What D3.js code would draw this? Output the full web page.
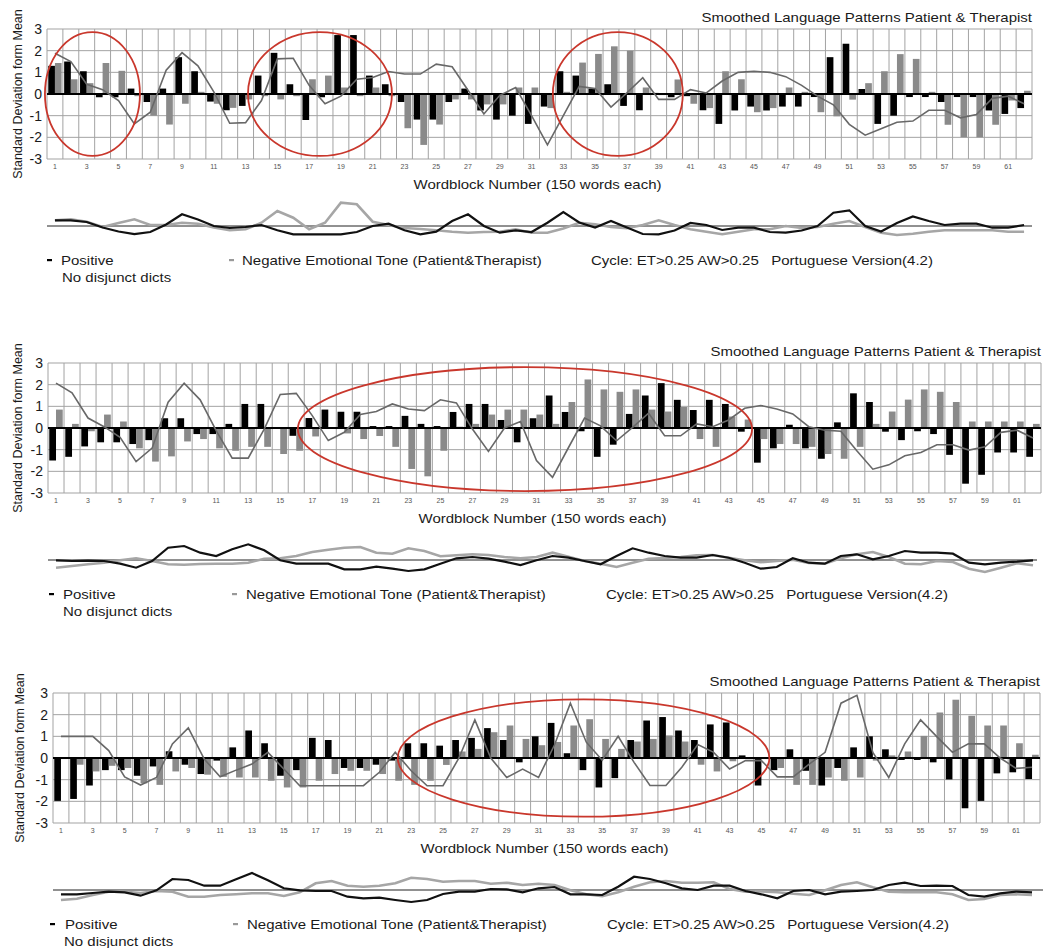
<!DOCTYPE html>
<html>
<head>
<meta charset="utf-8">
<script src="https://cdn.jsdelivr.net/npm/d3@7"></script>
<style>
  body { margin: 0; background: #fff; }
  svg text { font-family: "Liberation Sans", Arial, sans-serif; white-space: pre; }
</style>
</head>
<body>
<svg id="chart" width="1045" height="948"></svg>
<script>
// Wordblocks (150 words each) and axis ticks
const wordblocks = d3.range(1, 63);
const tickLabels = [1, 3, 5, 7, 9, 11, 13, 15, 17, 19, 21, 23, 25, 27, 29, 31, 33, 35, 37, 39, 41, 43, 45, 47, 49, 51, 53, 55, 57, 59, 61];
const yTicks = [-3, -2, -1, 0, 1, 2, 3];

// Panel 1
const p1Positive = [1.3, 1.5, 1.05, -0.15, -0.15, 0.25, -0.37, 0.25, 1.7, 1.05, -0.35, -0.75, -0.55, 0.85, 1.9, 0.45, -1.2, -0.15, 2.72, 2.72,
  0.85, 0.45, -0.37, -1.18, -1.18, -0.37, 0.25, -0.76, -1.18, -1.0, -1.38, -0.58, 1.05, 0.85, 0.25, 0.45, -0.55, -0.75, 0.05, -0.15,
  -0.1, -0.75, -1.38, -0.76, -0.58, -0.76, -0.58, -0.58, -0.14, 1.7, 2.32, 0.23, -1.38, -1.0, -0.14, -0.14, -0.37, -0.14, -0.14, -0.76,
  -0.92, -0.65];
const p1Negative = [1.43, 0.68, 0.5, 1.43, 1.07, -0.1, -1.0, -1.41, -0.45, 0.1, -0.45, -0.64, -0.25, -0.1, -0.25, -0.1, 0.68, 0.85, 0.3, -0.1,
  0.3, -0.1, -1.58, -2.35, -1.41, -0.25, -0.25, -0.48, -0.48, 0.3, 0.3, -0.65, 0.1, 1.45, 1.85, 2.2, 2.0, 0.3, -0.05, 0.67,
  -0.45, -0.65, 1.05, 0.68, -0.84, -0.65, 0.3, 0.1, -0.84, -1.03, -0.26, 0.5, 1.05, 1.84, 1.62, 0.1, -1.42, -2.0, -2.0, -1.42,
  -0.3, 0.15];
const p1Line = [1.88, 1.5, 0.45, 0.2, -0.3, -1.38, -0.84, 1.1, 1.91, 1.3, 0.1, -1.35, -1.32, -0.3, 1.62, 1.65, 0.4, -0.45, -0.1, 0.68,
  0.76, 1.04, 0.92, 0.92, 1.38, 1.26, 0.17, -0.92, -0.06, 0.3, -1.0, -2.35, -1.0, 0.35, 0.25, -0.6, 0.05, 0.75, -0.25, -0.25,
  0.2, 0.05, 0.6, 1.0, 1.05, 1.0, 0.8, 0.4, -0.1, -0.5, -1.4, -1.9, -1.6, -1.3, -1.25, -0.75, -0.75, -1.1, -0.95, -0.2,
  -0.1, -0.45];
const p1SmoothPos = [0.57, 0.57, 0.4, -0.15, -0.55, -0.82, -0.6, 0.15, 1.17, 0.65, 0, -0.2, -0.1, 0.1, -0.43, -0.83, -0.83, -0.83, -0.83, -0.6,
  0, 0.23, -0.43, -0.83, -0.57, 0.5, 1.17, 0, -0.67, -0.43, -0.6, 0.33, 1.4, 0.35, -0.15, 0.5, -0.15, -0.8, -0.83, -0.45,
  0.3, 0.1, -0.4, -0.17, -0.17, -0.6, -0.67, -0.45, 0, 1.33, 1.57, 0, -0.55, 0.3, 0.95, 0.5, 0.1, 0.23, 0.23, -0.17,
  -0.17, 0.1];
const p1SmoothNeg = [0.57, 0.67, 0.43, -0.1, 0.3, 0.67, 0.1, 0.1, 0.33, 0.23, -0.15, -0.43, -0.33, 0.33, 1.5, 0.83, -0.33, 0.33, 2.33, 2.17,
  0.43, 0.1, -0.2, -0.3, -0.43, -0.57, -0.67, -0.6, -0.57, -0.33, -0.67, -0.67, -0.25, 0.33, 0.17, -0.1, -0.23, 0.1, 0.57, 0.1,
  -0.33, -0.57, -0.83, -0.57, -0.33, -0.33, 0, -0.2, -0.1, 0.23, 0.5, -0.1, -0.67, -0.9, -0.77, -0.57, -0.43, -0.43, -0.43, -0.43,
  -0.57, -0.57];
const p1Rings = [{ cx: 3.36, rx: 2.99, cy: 0, ry: 2.86 }, { cx: 17.68, rx: 4.53, cy: 0, ry: 2.86 }, { cx: 36.43, rx: 4.09, cy: 0, ry: 2.86 }];

// Panel 2
const p2Positive = [-1.5, -1.33, -0.85, -0.66, -0.66, -0.74, -0.56, 0.45, 0.45, -0.28, -0.28, 0.19, 1.11, 1.11, 0, -0.36, 0.46, 0.85, 0.75, 0.75,
  0.09, 0.09, 0.56, 0.19, 0.09, 0.74, 1.11, 1.11, 0.37, -0.66, 0.45, 1.5, 0.74, -0.15, -1.33, -0.77, 0.65, 1.5, 2.07, 1.3,
  0.83, 1.3, 1.11, -0.17, -1.6, -0.94, 0.15, -0.94, -1.42, 0.26, 1.6, 1.2, -0.17, -0.56, -0.15, -0.28, -1.24, -2.57, -2.16, -1.13,
  -1.13, -1.33];
const p2Negative = [0.85, 0.19, -0.15, 0.62, 0.3, -0.94, -1.55, -1.31, -0.62, -0.51, -0.94, -1.05, -0.87, -0.87, -1.2, -1.05, -0.39, 0, -0.25, -0.51,
  -0.37, -0.87, -1.89, -2.23, -1.05, 0.06, 0.19, 0.62, 0.85, 0.85, 0.62, 0.19, 1.2, 2.24, 1.78, 1.67, 1.78, 0.85, 0.76, 0.97,
  -0.51, -0.87, 0.53, 0.39, -0.51, -0.74, -0.74, -0.87, -1.2, -1.42, -0.87, 0.19, 0.76, 1.31, 1.78, 1.67, 1.2, 0.3, 0.3, 0.3,
  0.3, 0.19];
const p2Line = [2.07, 1.62, 0.46, 0.06, -0.43, -1.55, -0.93, 1.19, 2.07, 1.3, -0.12, -1.39, -1.39, -0.05, 1.55, 1.6, 0.57, -0.58, -0.2, 0.62,
  0.76, 1.11, 0.88, 0.8, 1.3, 1.16, -0.05, -1.08, 0, 0.3, -1.5, -2.28, -0.9, 0.46, 0.1, -0.59, 0.03, 0.68, -0.36, -0.36,
  0.19, 0.06, 0.37, 0.91, 1.04, 0.88, 0.65, 0.06, -0.1, -0.15, -1.05, -1.9, -1.7, -1.28, -1.13, -0.77, -0.77, -1.02, -0.87, -0.2,
  -0.1, -0.46];
const p2SmoothPos = [-0.03, -0.1, -0.07, -0.1, -0.37, -0.77, -0.1, 1.23, 1.4, 0.73, 0.4, 1.07, 1.57, 0.97, -0.03, -0.37, -0.37, -0.37, -0.93, -0.93,
  -0.67, -0.87, -1.1, -0.93, -0.37, 0.17, 0.3, 0.13, -0.17, -0.5, -0.03, 0.4, 0.23, -0.1, -0.43, 0.4, 1.17, 0.73, 0.4, 0.23,
  0.23, 0.5, 0.23, -0.27, -0.87, -0.7, 0.17, -0.27, -0.37, 0.4, 0.57, 0.07, 0.4, 0.9, 0.73, 0.73, 0.63, -0.27, -0.43, -0.27,
  -0.17, -0.03];
const p2SmoothNeg = [-0.77, -0.6, -0.43, -0.27, -0.03, 0.17, -0.1, -0.43, -0.47, -0.4, -0.37, -0.37, -0.27, 0.13, 0.17, 0.4, 0.8, 1.03, 1.23, 1.3,
  0.73, 0.63, 1.17, 0.9, 0.37, 0.47, 0.57, 0.5, 0.3, 0.17, 0.3, 0.73, 0.33, -0.1, -0.37, -0.7, -0.27, 0.13, 0.2, 0.3,
  0.47, 0.5, 0.23, -0.03, -0.23, -0.1, 0.03, -0.3, -0.37, 0.17, 0.57, 0.8, 0.3, -0.37, -0.43, -0.1, -0.2, -0.87, -1.2, -0.77,
  -0.33, -0.53];
const p2Rings = [{ cx: 30.28, rx: 14.18, cy: -0.05, ry: 2.86 }];

// Panel 3
const p3Positive = [-1.98, -1.89, -1.27, -0.56, -0.56, -0.82, -0.39, 0.31, -0.31, -0.74, -0.12, 0.49, 1.27, 0.68, -0.82, -0.56, 0.93, 0.83, -0.46, -0.46,
  -0.31, -0.12, 0.68, 0.68, 0.57, 0.83, 0.93, 1.38, 0.83, -0.2, 1.0, 1.62, 0.22, -0.56, -1.36, -0.93, 0.83, 1.73, 1.89, 1.27,
  0.83, 1.55, 1.64, 0.12, -1.27, -0.56, 0.4, -0.59, -1.27, -0.46, 0.49, 1.0, 0.4, -0.09, -0.09, -0.2, -0.99, -2.32, -1.98, -0.71,
  -0.66, -0.97];
const p3Negative = [-0.05, -0.31, -0.62, -0.36, -0.46, -1.17, -1.24, -0.62, -0.46, -0.77, -0.87, -0.9, -0.9, -1.05, -1.36, -1.36, -1.05, -0.74, -0.59, -0.59,
  -0.74, -1.05, -1.24, -1.05, -0.32, 0.3, 0.42, 1.19, 1.5, 0.88, 0.59, 0.74, 1.5, 1.79, 0.88, 0.42, 0.76, 0.88, 1.04, 0.76,
  -0.31, -0.62, -0.15, -0.05, -0.05, -0.46, -1.24, -1.24, -0.9, -1.05, -0.9, -0.12, 0.12, 0.3, 1.02, 2.1, 2.69, 1.95, 1.5, 1.5,
  0.68, 0.15];
const p3Line = [1.0, 1.0, 1.0, 0.34, -0.87, -1.25, -0.9, 0.65, 1.39, -0.05, -0.87, -0.56, -0.28, 0.26, -0.51, -1.28, -1.28, -1.28, -1.28, -1.28,
  -0.66, 0.26, -0.59, -1.28, -1.28, 0.0, 1.76, 0.0, -0.9, -0.51, -0.9, 0.6, 2.53, 0.73, -0.1, 1.0, -0.2, -1.27, -1.27, -0.43,
  0.62, 0.26, -0.51, -0.12, -0.12, -0.87, -0.87, -0.28, 0.26, 2.53, 2.89, 0.26, -0.9, 0.65, 1.76, 1.0, 0.26, 0.65, 0.65, 0.0,
  -0.48, -0.43];
const p3SmoothPos = [-0.43, -0.43, -0.3, -0.17, -0.23, -0.57, -0.03, 1.1, 1.0, 0.43, 0.43, 1.07, 1.7, 0.97, 0.17, -0.03, -0.1, -0.1, -0.67, -0.83,
  -0.77, -1.0, -1.2, -1.0, -0.4, -0.17, -0.17, 0.1, 0.07, -0.23, 0.17, 0.3, -0.43, -0.43, -0.5, 0.33, 1.33, 1.1, 0.67, 0.17,
  0, 0.43, 0.43, -0.1, -0.43, -0.83, -0.1, 0, -0.43, -0.17, -0.1, 0, 0.5, 0.73, 0.4, 0.43, 0.4, -0.5, -0.67, -0.33,
  -0.17, -0.23];
const p3SmoothNeg = [-1.0, -0.87, -0.5, -0.17, -0.17, -0.3, -0.1, -0.17, -0.67, -0.67, -0.5, -0.43, -0.33, -0.33, -0.6, -0.23, 0.67, 0.9, 0.43, 0.33,
  0.43, 0.67, 1.23, 1.1, 0.83, 0.9, 0.9, 0.63, 0.73, 0.5, 0.63, 0.5, -0.03, -0.43, -0.63, -0.23, 0.33, 0.77, 0.9, 0.73,
  0.73, 0.77, 0.1, -0.17, -0.13, -0.23, -0.37, -0.5, -0.03, 0.5, 0.77, 0.27, -0.17, -0.23, -0.23, -0.23, -0.43, -1.0, -0.9, -0.5,
  -0.43, -0.5];
const p3Rings = [{ cx: 33.83, rx: 11.67, cy: 0, ry: 2.71 }];

const titleText = "Smoothed Language Patterns Patient & Therapist";
const xTitle = "Wordblock Number (150 words each)";
const yTitle = "Standard Deviation form Mean";
const posLabel = "Positive";
const negLabel = "Negative Emotional Tone (Patient&Therapist)";
const cycleLabel = "Cycle: ET>0.25 AW>0.25   Portuguese Version(4.2)";
const noteLabel = "No disjunct dicts";

const panels = [
  { pos: p1Positive, neg: p1Negative, line: p1Line, sPos: p1SmoothPos, sNeg: p1SmoothNeg, rings: p1Rings,
    left: 47, right: 1032, top: 29, yTitleX: 17, base: [47, 1032],
    lg: { dash: 47, text: 61, negDash: 229, negText: 242, cycle: 591, note: 62 } },
  { pos: p2Positive, neg: p2Negative, line: p2Line, sPos: p2SmoothPos, sNeg: p2SmoothNeg, rings: p2Rings,
    left: 48, right: 1041, top: 363, yTitleX: 17, base: [48, 1037],
    lg: { dash: 49, text: 63, negDash: 232, negText: 246, cycle: 606, note: 63 } },
  { pos: p3Positive, neg: p3Negative, line: p3Line, sPos: p3SmoothPos, sNeg: p3SmoothNeg, rings: p3Rings,
    left: 53, right: 1040, top: 693, yTitleX: 19, base: [53, 1043],
    lg: { dash: 50, text: 65, negDash: 233, negText: 247, cycle: 607, note: 64 } }
];

const plotH = 130;
const stretch = 1.2; // the scan is widened, so horizontal text is stretched a bit
const svg = d3.select("#chart");

function label(g, x, y, txt, size, anchor, fill) {
  return g.append("text")
    .attr("transform", `translate(${x},${y}) scale(${stretch},1)`)
    .attr("text-anchor", anchor || "start")
    .attr("font-size", size)
    .attr("fill", fill || "#1a1a1a")
    .text(txt);
}

function drawPanel(p) {
  const g = svg.append("g");
  const bottom = p.top + plotH;

  const x = d3.scaleBand().domain(wordblocks).range([p.left, p.right]);
  const xSub = d3.scaleBand().domain(["pos", "neg"]).range([0, x.bandwidth()]).paddingOuter(0.19);
  const xLin = d3.scaleLinear().domain([0.5, 62.5]).range([p.left, p.right]);
  const y = d3.scaleLinear().domain([-3, 3]).range([bottom, p.top]);
  const cx = d => x(d) + x.bandwidth() / 2;

  // grid
  g.append("g").selectAll("line").data(yTicks).join("line")
    .attr("x1", p.left).attr("x2", p.right)
    .attr("y1", d => y(d)).attr("y2", d => y(d))
    .attr("stroke", "#a3a3a3").attr("stroke-width", 1);
  g.append("g").selectAll("line").data(wordblocks.map(d => x(d)).concat([p.right])).join("line")
    .attr("x1", d => d).attr("x2", d => d)
    .attr("y1", p.top).attr("y2", bottom)
    .attr("stroke", "#a3a3a3").attr("stroke-width", 1);

  // bars
  const rows = wordblocks.map((d, i) => ({ wb: d, pos: p.pos[i], neg: p.neg[i] }));
  g.append("g").selectAll("rect").data(rows).join("rect")
    .attr("x", d => x(d.wb) + xSub("pos"))
    .attr("width", xSub.bandwidth())
    .attr("y", d => y(Math.max(0, d.pos)))
    .attr("height", d => Math.abs(y(d.pos) - y(0)))
    .attr("fill", "#000");
  g.append("g").selectAll("rect").data(rows).join("rect")
    .attr("x", d => x(d.wb) + xSub("neg"))
    .attr("width", xSub.bandwidth())
    .attr("y", d => y(Math.max(0, d.neg)))
    .attr("height", d => Math.abs(y(d.neg) - y(0)))
    .attr("fill", "#8a8a8a");

  // zero line
  g.append("line").attr("x1", p.left).attr("x2", p.right)
    .attr("y1", y(0)).attr("y2", y(0))
    .attr("stroke", "#000").attr("stroke-width", 2.2);

  // smoothed line
  g.append("path").datum(p.line)
    .attr("fill", "none").attr("stroke", "#686868").attr("stroke-width", 1.6)
    .attr("d", d3.line().x((d, i) => cx(wordblocks[i])).y(d => y(d)));

  // red rings
  g.append("g").selectAll("ellipse").data(p.rings).join("ellipse")
    .attr("cx", d => xLin(d.cx)).attr("cy", d => y(d.cy))
    .attr("rx", d => xLin(d.cx + d.rx) - xLin(d.cx))
    .attr("ry", d => y(0) - y(d.ry))
    .attr("fill", "none").attr("stroke", "#c9372c").attr("stroke-width", 1.8);

  // axes
  const yAxis = g.append("g").attr("transform", `translate(${p.left},0)`)
    .call(d3.axisLeft(y).tickValues(yTicks).tickSize(0).tickPadding(5).tickFormat(d => String(d)));
  yAxis.select(".domain").remove();
  yAxis.selectAll("text").attr("font-size", 14).attr("fill", "#1a1a1a")
    .attr("font-family", "'Liberation Sans', Arial, sans-serif");

  const xAxis = g.append("g").attr("transform", `translate(0,${bottom})`)
    .call(d3.axisBottom(x).tickValues(tickLabels).tickSize(0).tickPadding(5));
  xAxis.select(".domain").remove();
  xAxis.selectAll("text").attr("font-size", 7).attr("fill", "#555")
    .attr("font-family", "'Liberation Sans', Arial, sans-serif");

  // titles
  label(g, p.right, p.top - 7.5, titleText, 12.5, "end");
  label(g, (p.left + p.right) / 2 - 2, bottom + 29.5, xTitle, 12.5, "middle");
  g.append("text")
    .attr("transform", `translate(${p.yTitleX + 4.5},${p.top + plotH / 2}) rotate(-90)`)
    .attr("text-anchor", "middle").attr("font-size", 12.5).attr("fill", "#1a1a1a")
    .text(yTitle);

  // small smoothed chart
  const mid = bottom + 67;
  const sy = d3.scaleLinear().domain([-3, 3]).range([mid + 30, mid - 30]);
  const sLine = d3.line().x((d, i) => cx(wordblocks[i])).y(d => sy(d));
  g.append("line").attr("x1", p.base[0]).attr("x2", p.base[1])
    .attr("y1", sy(0)).attr("y2", sy(0))
    .attr("stroke", "#222").attr("stroke-width", 1);
  g.append("path").datum(p.sNeg).attr("d", sLine)
    .attr("fill", "none").attr("stroke", "#a6a6a6").attr("stroke-width", 2.6);
  g.append("path").datum(p.sPos).attr("d", sLine)
    .attr("fill", "none").attr("stroke", "#111").attr("stroke-width", 2.2);

  // legend
  const ly = bottom + 105.5;
  g.append("rect").attr("x", p.lg.dash).attr("y", ly - 5.5).attr("width", 5).attr("height", 2.2).attr("fill", "#000");
  label(g, p.lg.text, ly, posLabel, 12.5);
  g.append("rect").attr("x", p.lg.negDash).attr("y", ly - 5.5).attr("width", 5).attr("height", 2.2).attr("fill", "#999");
  label(g, p.lg.negText, ly, negLabel, 12.5);
  label(g, p.lg.cycle, ly, cycleLabel, 12.5);
  label(g, p.lg.note, bottom + 123, noteLabel, 12.5);
}

panels.forEach(drawPanel);
</script>
</body>
</html>
